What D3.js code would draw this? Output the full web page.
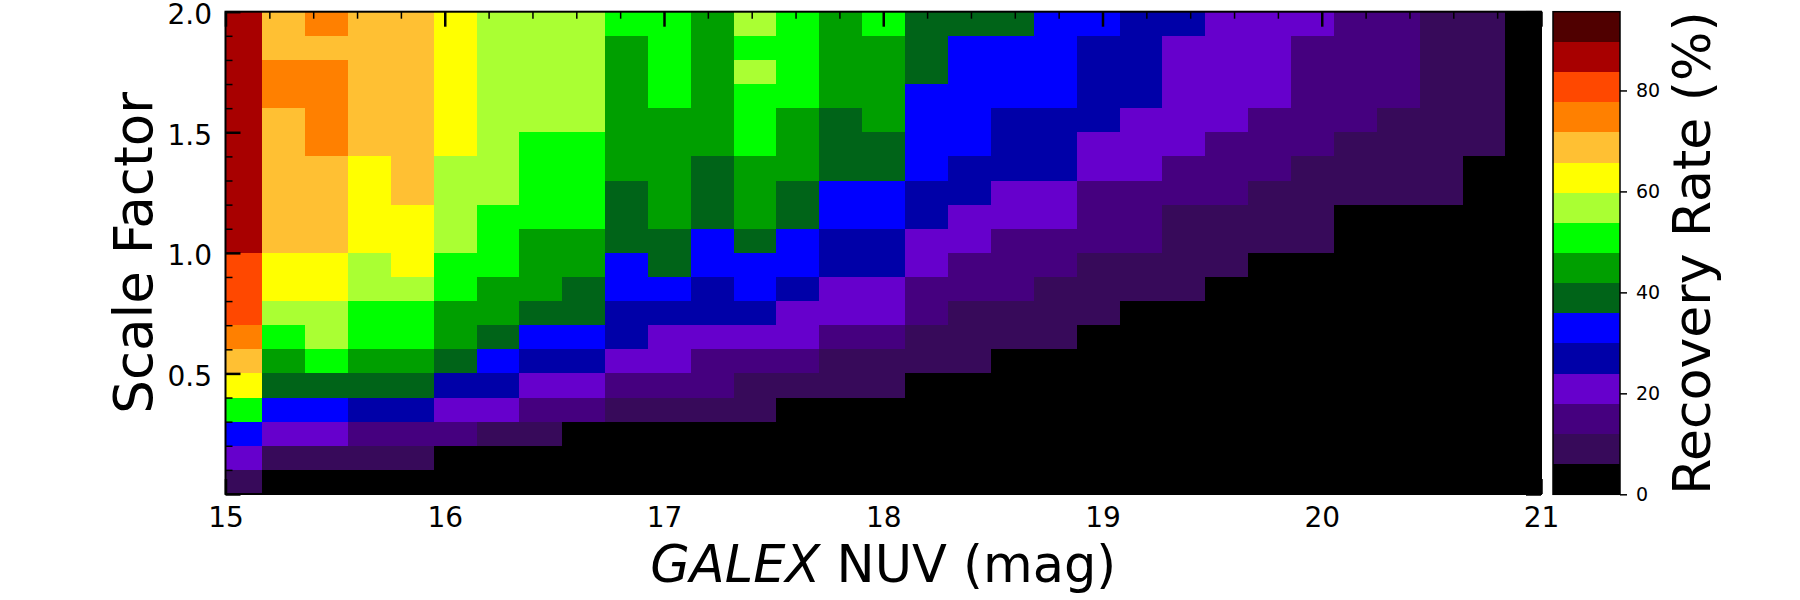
<!DOCTYPE html>
<html><head><meta charset="utf-8">
<script src="https://cdn.jsdelivr.net/npm/d3@7"></script>
<style>body{margin:0;background:#fff}</style>
</head><body>
<svg id="chart" width="1800" height="600"></svg>
<script>
// Bin edges (GALEX NUV mag)
const xEdges = [15.0, 15.167, 15.363, 15.558, 15.754, 15.949, 16.145, 16.340, 16.536, 16.731, 16.927,
  17.122, 17.318, 17.513, 17.709, 17.904, 18.100, 18.296, 18.491, 18.687, 18.882,
  19.078, 19.273, 19.469, 19.664, 19.860, 20.055, 20.251, 20.446, 20.642, 20.837, 21.0];
// Scale-factor edges, top to bottom
const yEdges = [2.0, 1.9, 1.8, 1.7, 1.6, 1.5, 1.4, 1.3, 1.2, 1.1, 1.0, 0.9, 0.8, 0.7, 0.6, 0.5, 0.4, 0.3, 0.2, 0.1, 0.0];
// Recovery rate (%) per cell, rows from top (1.9-2.0) to bottom (0.0-0.1)
const recovery = [
  [87,69,75,69,69,63,57,57,57,51,51,45,57,51,45,51,39,39,39,33,33,27,27,21,21,21,15,15,9,9,0],
  [87,69,69,69,69,63,57,57,57,45,51,45,51,51,45,45,39,33,33,33,27,27,21,21,21,15,15,15,9,9,0],
  [87,75,75,69,69,63,57,57,57,45,51,45,57,51,45,45,39,33,33,33,27,27,21,21,21,15,15,15,9,9,0],
  [87,75,75,69,69,63,57,57,57,45,51,45,51,51,45,45,33,33,33,33,27,27,21,21,21,15,15,15,9,9,0],
  [87,69,75,69,69,63,57,57,57,45,45,45,51,45,39,45,33,33,27,27,27,21,21,21,15,15,15,9,9,9,0],
  [87,69,75,69,69,63,57,51,51,45,45,45,51,45,39,39,33,33,27,27,21,21,21,15,15,15,9,9,9,9,0],
  [87,69,69,63,69,57,57,51,51,45,45,39,45,45,39,39,33,27,27,27,21,21,15,15,15,9,9,9,9,0,0],
  [87,69,69,63,69,57,57,51,51,39,45,39,45,39,33,33,27,27,21,21,15,15,15,15,9,9,9,9,9,0,0],
  [87,69,69,63,63,57,51,51,51,39,45,39,45,39,33,33,27,21,21,21,15,15,9,9,9,9,0,0,0,0,0],
  [87,69,69,63,63,57,51,45,45,39,39,33,39,33,27,27,21,21,15,15,15,15,9,9,9,9,0,0,0,0,0],
  [81,63,63,57,63,51,51,45,45,33,39,33,33,33,27,27,21,15,15,15,9,9,9,9,0,0,0,0,0,0,0],
  [81,63,63,57,57,51,45,45,39,33,33,27,33,27,21,21,15,15,15,9,9,9,9,0,0,0,0,0,0,0,0],
  [81,57,57,51,51,45,45,39,39,27,27,27,27,21,21,21,15,9,9,9,9,0,0,0,0,0,0,0,0,0,0],
  [75,51,57,51,51,45,39,33,33,27,21,21,21,21,15,15,9,9,9,9,0,0,0,0,0,0,0,0,0,0,0],
  [69,45,51,45,45,39,33,27,27,21,21,15,15,15,9,9,9,9,0,0,0,0,0,0,0,0,0,0,0,0,0],
  [63,39,39,39,39,27,27,21,21,15,15,15,9,9,9,9,0,0,0,0,0,0,0,0,0,0,0,0,0,0,0],
  [51,33,33,27,27,21,21,15,15,9,9,9,9,0,0,0,0,0,0,0,0,0,0,0,0,0,0,0,0,0,0],
  [33,21,21,15,15,15,9,9,0,0,0,0,0,0,0,0,0,0,0,0,0,0,0,0,0,0,0,0,0,0,0],
  [21,9,9,9,9,0,0,0,0,0,0,0,0,0,0,0,0,0,0,0,0,0,0,0,0,0,0,0,0,0,0],
  [9,0,0,0,0,0,0,0,0,0,0,0,0,0,0,0,0,0,0,0,0,0,0,0,0,0,0,0,0,0,0]
];
const xTickLabels = [15, 16, 17, 18, 19, 20, 21];
const yTickLabels = [0.5, 1.0, 1.5, 2.0];
const cbarTicks = [0, 20, 40, 60, 80];
const cbarMax = 95.6;
const bandColors = ["#000000","#370a5a","#45007f","#6600cc","#0000a8","#0000ff","#006418","#009f00",
  "#00ff00","#aaff33","#ffff00","#ffc033","#ff8000","#ff4800","#a80000","#500000"];

const FONT = "'DejaVu Sans', sans-serif";
const svg = d3.select("#chart");
svg.append("rect").attr("width", 1800).attr("height", 600).attr("fill", "#fff");

const plot = {left: 225.5, right: 1541, top: 11.7, bottom: 494};
const x = d3.scaleLinear().domain([15, 21]).range([plot.left, plot.right]);
const y = d3.scaleLinear().domain([0, 2]).range([plot.bottom, plot.top]);
const color = d3.scaleQuantize().domain([0, cbarMax]).range(bandColors);

const cells = [];
recovery.forEach((row, i) => row.forEach((v, j) => cells.push({i, j, v})));
svg.append("g").attr("shape-rendering", "crispEdges").selectAll("rect").data(cells).join("rect")
  .attr("x", d => x(xEdges[d.j]))
  .attr("width", d => x(xEdges[d.j + 1]) - x(xEdges[d.j]))
  .attr("y", d => y(yEdges[d.i]))
  .attr("height", d => y(yEdges[d.i + 1]) - y(yEdges[d.i]))
  .attr("fill", d => color(d.v));

const xMinor = d3.range(15, 21.001, 0.2).filter(v => Math.abs(v - Math.round(v)) > 1e-6);
const yMinor = d3.range(0, 2.001, 0.1).filter(v => Math.abs(v * 2 - Math.round(v * 2)) > 1e-6);
const yMajor = [0, 0.5, 1.0, 1.5, 2.0];

function styleAxis(g, w, fs) {
  g.select(".domain").remove();
  g.selectAll(".tick line").attr("stroke", "#000").attr("stroke-width", w);
  g.selectAll(".tick text").attr("fill", "#000").style("font-family", FONT).style("font-size", fs + "px");
}

// bottom
svg.append("g").attr("transform", `translate(0,${plot.bottom})`)
  .call(d3.axisBottom(x).tickValues(xTickLabels).tickSize(-15).tickPadding(13).tickFormat(d3.format("d")))
  .call(g => styleAxis(g, 2.5, 28));
svg.append("g").attr("transform", `translate(0,${plot.bottom})`)
  .call(d3.axisBottom(x).tickValues(xMinor).tickSize(-7).tickFormat(""))
  .call(g => styleAxis(g, 1.5, 10));
// top
svg.append("g").attr("transform", `translate(0,${plot.top})`)
  .call(d3.axisTop(x).tickValues(xTickLabels).tickSize(-15).tickFormat(""))
  .call(g => styleAxis(g, 2.5, 10));
svg.append("g").attr("transform", `translate(0,${plot.top})`)
  .call(d3.axisTop(x).tickValues(xMinor).tickSize(-7).tickFormat(""))
  .call(g => styleAxis(g, 1.5, 10));
// left
svg.append("g").attr("transform", `translate(${plot.left},0)`)
  .call(d3.axisLeft(y).tickValues(yMajor).tickSize(-15).tickPadding(13.5)
    .tickFormat(v => yTickLabels.includes(v) ? d3.format(".1f")(v) : ""))
  .call(g => styleAxis(g, 2.5, 28))
  .call(g => g.selectAll(".tick text").attr("dy", "0.42em"));
svg.append("g").attr("transform", `translate(${plot.left},0)`)
  .call(d3.axisLeft(y).tickValues(yMinor).tickSize(-7).tickFormat(""))
  .call(g => styleAxis(g, 1.5, 10));
// right
svg.append("g").attr("transform", `translate(${plot.right},0)`)
  .call(d3.axisRight(y).tickValues(yMajor).tickSize(-15).tickFormat(""))
  .call(g => styleAxis(g, 2.5, 10));
svg.append("g").attr("transform", `translate(${plot.right},0)`)
  .call(d3.axisRight(y).tickValues(yMinor).tickSize(-7).tickFormat(""))
  .call(g => styleAxis(g, 1.5, 10));

// frame
svg.append("rect").attr("x", plot.left).attr("y", plot.top)
  .attr("width", plot.right - plot.left).attr("height", plot.bottom - plot.top)
  .attr("fill", "none").attr("stroke", "#000").attr("stroke-width", 2);

// axis labels
const xl = svg.append("text").attr("x", (plot.left + plot.right) / 2).attr("y", 582)
  .attr("text-anchor", "middle").style("font-family", FONT).style("font-size", "51px").attr("fill", "#000");
xl.append("tspan").style("font-style", "italic").text("GALEX");
xl.append("tspan").text(" NUV (mag)");
svg.append("text").attr("transform", `translate(152,${(plot.top + plot.bottom) / 2}) rotate(-90)`)
  .attr("text-anchor", "middle").style("font-family", FONT).style("font-size", "53px").attr("fill", "#000")
  .text("Scale Factor");

// colorbar
const cb = {left: 1553, right: 1620, top: 11.7, bottom: 494.3};
const cy = d3.scaleLinear().domain([0, cbarMax]).range([cb.bottom, cb.top]);
const bandEdges = [0, ...color.thresholds(), cbarMax];
svg.append("g").attr("shape-rendering", "crispEdges").selectAll("rect").data(bandColors).join("rect")
  .attr("x", cb.left).attr("width", cb.right - cb.left)
  .attr("y", (c, k) => cy(bandEdges[k + 1]))
  .attr("height", (c, k) => cy(bandEdges[k]) - cy(bandEdges[k + 1]))
  .attr("fill", c => c);
svg.append("rect").attr("x", cb.left).attr("y", cb.top)
  .attr("width", cb.right - cb.left).attr("height", cb.bottom - cb.top)
  .attr("fill", "none").attr("stroke", "#000").attr("stroke-width", 1.5);
svg.append("g").attr("transform", `translate(${cb.right},0)`)
  .call(d3.axisRight(cy).tickValues(cbarTicks).tickSize(7).tickPadding(9).tickFormat(d3.format("d")))
  .call(g => styleAxis(g, 1.5, 19));
svg.append("text").attr("transform", `translate(1710,${(cb.top + cb.bottom) / 2}) rotate(-90)`)
  .attr("text-anchor", "middle").style("font-family", FONT).style("font-size", "52px").attr("fill", "#000")
  .text("Recovery Rate (%)");
</script>
</body></html>
